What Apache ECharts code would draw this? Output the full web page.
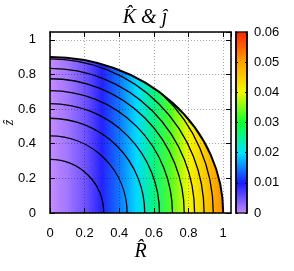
<!DOCTYPE html>
<html><head><meta charset="utf-8">
<script src="https://cdn.jsdelivr.net/npm/echarts@6/dist/echarts.min.js"></script>
<style>html,body{margin:0;padding:0;background:#fff}#c{width:294px;height:271px}</style>
</head><body><div id="c"></div>
<script>
// ---- data ----
const titleText = 'K\u0302 & \u0135';
const xName = 'R\u0302';
const yName = '\u1E91';
const axisMin = 0;
const axisMax = 1.045;
const tickStep = 0.2;
// domain boundary (quarter ellipse): R semi-axis, z semi-axis
const domainR = 1.0;
const domainZ = 0.9;
// contour radii (x-intercepts on z = 0)
const contourR = [0.31, 0.445, 0.547, 0.632, 0.707, 0.775, 0.835, 0.89, 0.943];
// colour field j sampled along R
const jR = [0, 0.1, 0.2, 0.3, 0.4, 0.5, 0.6, 0.7, 0.8, 0.9, 1.0];
const jVal = [0, 0.002, 0.005, 0.0095, 0.0145, 0.0195, 0.026, 0.033, 0.040, 0.0455, 0.0515];
// colour bar
const cbMin = 0, cbMax = 0.06, cbStep = 0.01;
const palette = ['#c48cff', '#1c1cff', '#00e4ff', '#10ff30', '#f4f800', '#ffa000', '#ff2000'];

const FONT = 'Liberation Sans';
const SERIF = 'Liberation Serif';

function fmt(step) {
  return function (v) {
    const k = v / step;
    return Math.abs(k - Math.round(k)) < 1e-6 ? String(+v.toFixed(3)) : '';
  };
}

function renderFill(params, api) {
  const o = api.coord([0, 0]);
  const pr = api.coord([api.value(0), 0]);
  const pz = api.coord([0, api.value(1)]);
  const rx = pr[0] - o[0], ry = o[1] - pz[1];
  const x0 = api.coord([jR[0], 0])[0];
  const x1 = api.coord([jR[jR.length - 1], 0])[0];
  const span = jR[jR.length - 1] - jR[0];
  const stops = jR.map((r, i) => ({
    offset: (r - jR[0]) / span,
    color: echarts.color.lerp((jVal[i] - cbMin) / (cbMax - cbMin), palette)
  }));
  return {
    type: 'path',
    shape: { pathData: 'M' + o[0] + ' ' + o[1] + ' L' + pr[0] + ' ' + pr[1] +
      ' A' + rx + ' ' + ry + ' 0 0 0 ' + pz[0] + ' ' + pz[1] + ' Z' },
    style: { fill: { type: 'linear', x: x0, y: 0, x2: x1, y2: 0, global: true, colorStops: stops },
             stroke: null }
  };
}

function renderBoundary(params, api) {
  const o = api.coord([0, 0]);
  const pr = api.coord([api.value(0), 0]);
  const pz = api.coord([0, api.value(1)]);
  const rx = pr[0] - o[0], ry = o[1] - pz[1];
  return {
    type: 'path',
    shape: { pathData: 'M' + pr[0] + ' ' + pr[1] + ' A' + rx + ' ' + ry + ' 0 0 0 ' + pz[0] + ' ' + pz[1] },
    style: { fill: null, stroke: '#000', lineWidth: 2 }
  };
}

function renderContour(params, api) {
  const r = api.value(0);
  const o = api.coord([0, 0]);
  const pr = api.coord([r, 0]);
  const rp = pr[0] - o[0];
  let theta = Math.PI / 2;
  if (r > domainZ) {
    const z2 = (1 - r * r / (domainR * domainR)) / (1 / (domainZ * domainZ) - 1 / (domainR * domainR));
    theta = Math.asin(Math.min(1, Math.sqrt(Math.max(0, z2)) / r));
  }
  return {
    type: 'arc',
    shape: { cx: o[0], cy: o[1], r: rp, startAngle: -theta, endAngle: 0, clockwise: true },
    style: { fill: null, stroke: '#000', lineWidth: 1.3 }
  };
}

function renderColorbar(params, api) {
  const tl = api.coord([0, cbMax]);
  const br = api.coord([1, cbMin]);
  const stops = palette.map((c, i) => ({ offset: i / (palette.length - 1), color: c }));
  return {
    type: 'rect',
    shape: { x: tl[0], y: tl[1], width: br[0] - tl[0], height: br[1] - tl[1] },
    style: { fill: { type: 'linear', x: 0, y: 1, x2: 0, y2: 0, colorStops: stops },
             stroke: '#222', lineWidth: 1.5 }
  };
}

const axisLine = { show: true, onZero: false, lineStyle: { color: '#000', width: 1.5 } };
const tick = { show: true, inside: true, length: 5, lineStyle: { color: '#000', width: 1 } };
const split = { show: true, lineStyle: { color: 'rgba(0,0,0,0.35)', type: [1, 2], width: 1 } };
const lbl = { fontFamily: FONT, fontSize: 13, color: '#000' };

const chart = echarts.init(document.getElementById('c'), null, { renderer: 'canvas' });
chart.setOption({
  animation: false,
  backgroundColor: '#fff',
  title: {
    text: titleText, left: 140, textAlign: 'center', top: 3,
    textStyle: { fontFamily: SERIF, fontStyle: 'italic', fontWeight: 'normal', fontSize: 20, color: '#000' }
  },
  grid: [
    { left: 50, top: 32, width: 181, height: 181, containLabel: false, outerBoundsMode: 'none' },
    { left: 236, top: 32, width: 11, height: 181, containLabel: false, outerBoundsMode: 'none' }
  ],
  xAxis: [
    { gridIndex: 0, type: 'value', position: 'bottom', min: axisMin, max: axisMax, interval: tickStep,
      axisLine, axisTick: tick, splitLine: split,
      axisLabel: Object.assign({ margin: 14, formatter: fmt(tickStep), showMaxLabel: false }, lbl),
      name: xName, nameLocation: 'middle', nameGap: 29, nameMoveOverlap: false,
      nameTextStyle: { fontFamily: SERIF, fontStyle: 'italic', fontSize: 20, color: '#000' } },
    { gridIndex: 0, type: 'value', position: 'top', min: axisMin, max: axisMax, interval: tickStep,
      axisLine, axisTick: tick, splitLine: { show: false }, axisLabel: { show: false } },
    { gridIndex: 1, type: 'value', min: 0, max: 1, show: false }
  ],
  yAxis: [
    { gridIndex: 0, type: 'value', position: 'left', min: axisMin, max: axisMax, interval: tickStep,
      axisLine, axisTick: tick, splitLine: split,
      axisLabel: Object.assign({ margin: 14, formatter: fmt(tickStep), showMaxLabel: false }, lbl),
      name: yName, nameLocation: 'middle', nameRotate: 90, nameGap: 34, nameMoveOverlap: false,
      nameTextStyle: { fontFamily: SERIF, fontStyle: 'italic', fontSize: 14, color: '#000' } },
    { gridIndex: 0, type: 'value', position: 'right', min: axisMin, max: axisMax, interval: tickStep,
      axisLine, axisTick: tick, splitLine: { show: false }, axisLabel: { show: false } },
    { gridIndex: 1, type: 'value', position: 'left', min: cbMin, max: cbMax, interval: cbStep,
      axisLine, axisTick: { show: true, inside: true, length: 2, lineStyle: { color: '#000' } },
      splitLine: { show: false }, axisLabel: { show: false } },
    { gridIndex: 1, type: 'value', position: 'right', min: cbMin, max: cbMax, interval: cbStep,
      axisLine, axisTick: { show: true, inside: true, length: 2, lineStyle: { color: '#000' } },
      splitLine: { show: false },
      axisLabel: Object.assign({ margin: 7, formatter: fmt(cbStep) }, lbl) }
  ],
  series: [
    { type: 'custom', coordinateSystem: 'cartesian2d', xAxisIndex: 0, yAxisIndex: 0, z: -1,
      renderItem: renderFill, data: [[domainR, domainZ]], silent: true },
    { type: 'custom', coordinateSystem: 'cartesian2d', xAxisIndex: 0, yAxisIndex: 0, z: 3,
      renderItem: renderContour, data: contourR.map(r => [r]), silent: true },
    { type: 'custom', coordinateSystem: 'cartesian2d', xAxisIndex: 0, yAxisIndex: 0, z: 4,
      renderItem: renderBoundary, data: [[domainR, domainZ]], silent: true },
    { type: 'custom', coordinateSystem: 'cartesian2d', xAxisIndex: 2, yAxisIndex: 2, z: -1,
      renderItem: renderColorbar, data: [[0]], silent: true }
  ]
});
</script>
</body></html>
